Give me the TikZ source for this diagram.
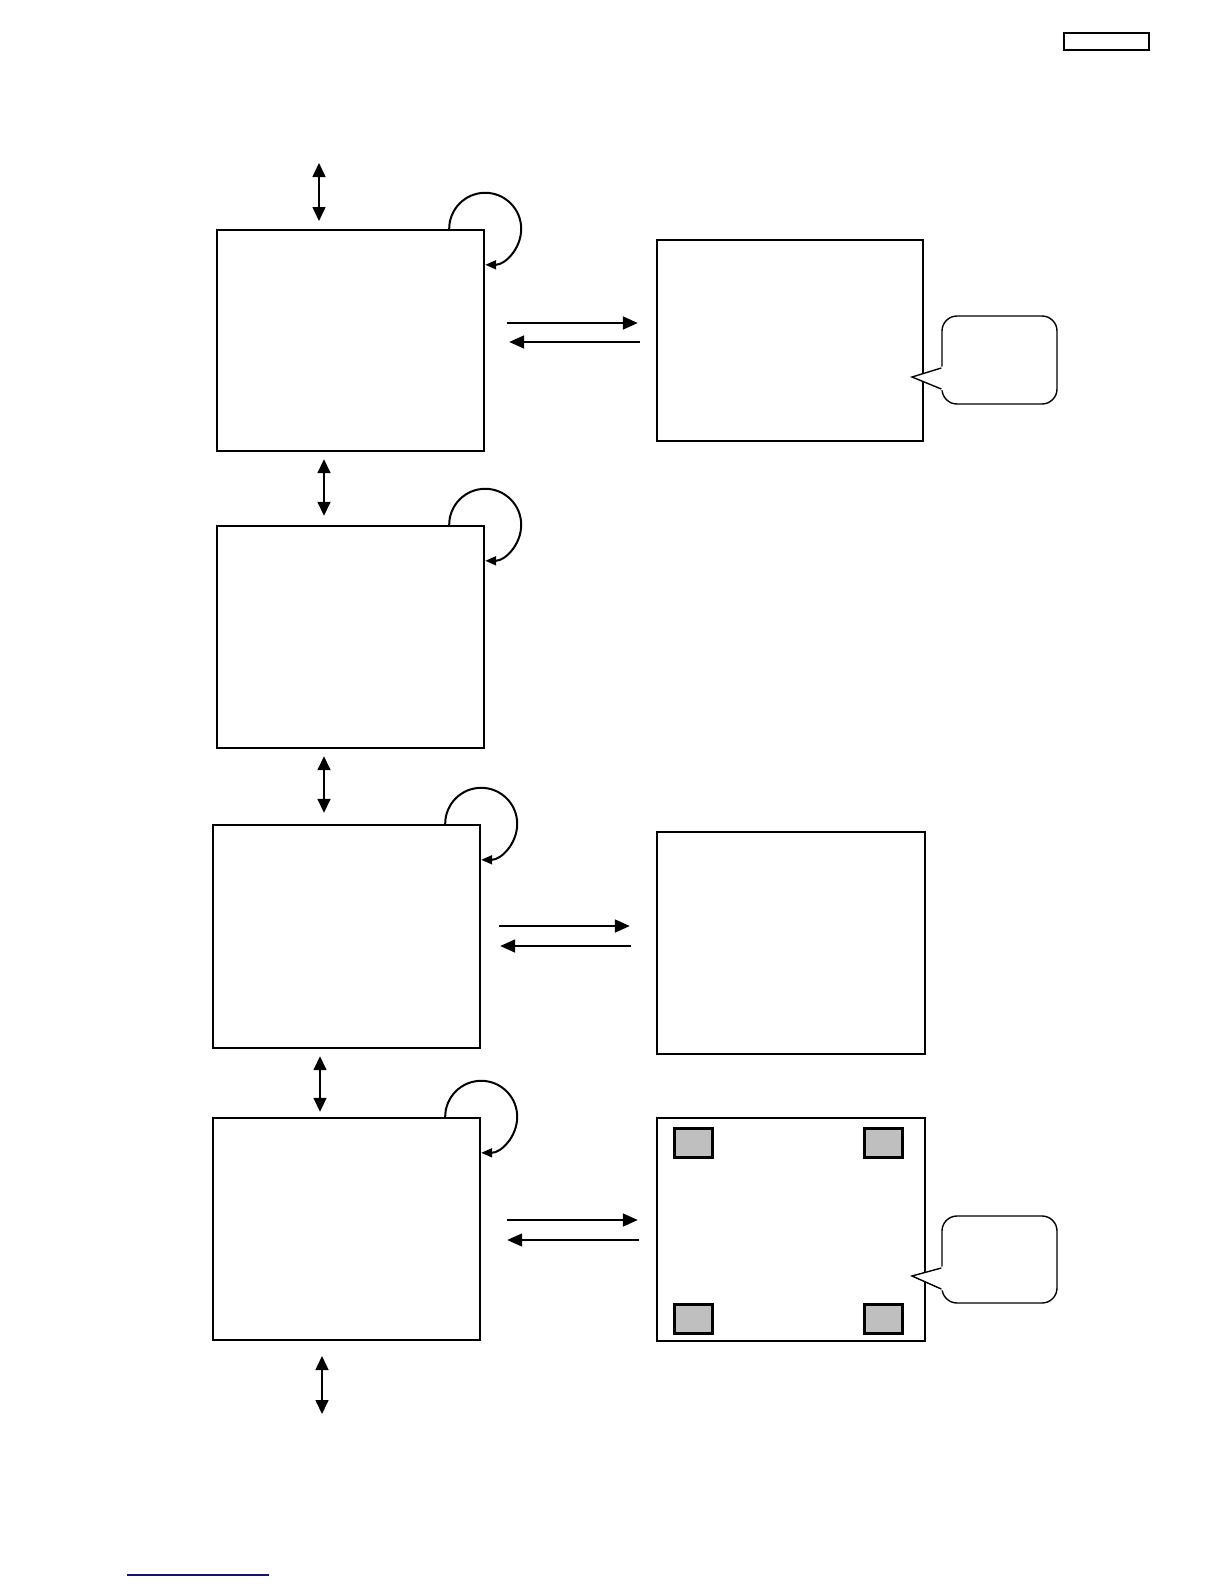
\documentclass[tikz,border=0pt]{standalone}
\usetikzlibrary{arrows.meta}
\begin{document}
\begin{tikzpicture}[x=0.5pt,y=-0.5pt,
  box/.style={draw,line width=1.2pt,inner sep=0pt,minimum width=133.5pt},
  graysq/.style={draw,fill=gray!50!white,line width=1.5pt,inner sep=0pt,minimum width=19pt,minimum height=14.5pt},
  dbl/.style={line width=0.8pt,{Triangle[length=7pt,width=6.5pt]}-{Triangle[length=7pt,width=6.5pt]}},
  harr/.style={line width=0.9pt,-{Triangle[length=7.5pt,width=6.5pt]}},
  loop/.style={line width=1pt,-{Triangle[length=5.5pt,width=4.5pt]}},
  callout/.style={line width=0.7pt}]
\useasboundingbox (0,0) rectangle (1224,1584);
% top-right small rectangle
\node[draw,line width=0.9pt,inner sep=0pt,minimum width=42.5pt,minimum height=8.5pt] (tag) at (1106.5,41.5) {};
% left boxes
\node[box,minimum height=110.5pt] (b1) at (350.5,340.5) {};
\node[box,minimum height=111pt] (b2) at (350.5,637) {};
\node[box,minimum height=111.5pt] (b3) at (346.5,936.5) {};
\node[box,minimum height=111pt] (b4) at (346.5,1229) {};
% right boxes
\node[box,minimum width=133pt,minimum height=100.5pt] (r1) at (790,340.5) {};
\node[box,minimum width=134pt,minimum height=111pt] (r3) at (791,943) {};
\node[box,minimum width=134pt,minimum height=111.5pt] (r4) at (791,1229.5) {};
% gray squares
\node[graysq] (g1) at (693,1142.5) {};
\node[graysq] (g2) at (883,1142.5) {};
\node[graysq] (g3) at (693,1318.5) {};
\node[graysq] (g4) at (883,1318.5) {};
% vertical double arrows
\coordinate (v0a) at (319,163); \coordinate (v0b) at (319,221);
\draw[dbl] (v0a) -- (v0b);
\draw[dbl] ([xshift=-13.25pt,yshift=-3.5pt]b1.south) -- ([xshift=-13.25pt,yshift=4.5pt]b2.north);
\draw[dbl] ([xshift=-13.25pt,yshift=-3.5pt]b2.south) -- ([xshift=-11.25pt,yshift=5.5pt]b3.north);
\draw[dbl] ([xshift=-13.25pt,yshift=-3.5pt]b3.south) -- ([xshift=-13.25pt,yshift=2.5pt]b4.north);
\coordinate (v4a) at (322,1356); \coordinate (v4b) at (322,1414);
\draw[dbl] (v4a) -- (v4b);
% horizontal arrow pairs (canvas yshift: positive is up)
\draw[harr] ([xshift=11pt,yshift=8.75pt]b1.east) -- ([xshift=-9pt,yshift=8.75pt]r1.west);
\draw[harr] ([xshift=-8pt,yshift=-0.75pt]r1.west) -- ([xshift=12pt,yshift=-0.75pt]b1.east);
\draw[harr] ([xshift=9pt,yshift=5.25pt]b3.east) -- ([xshift=-13pt,yshift=8.5pt]r3.west);
\draw[harr] ([xshift=-12.5pt,yshift=-1.5pt]r3.west) -- ([xshift=9.5pt,yshift=-4.75pt]b3.east);
\draw[harr] ([xshift=13pt,yshift=4.5pt]b4.east) -- ([xshift=-9pt,yshift=4.75pt]r4.west);
\draw[harr] ([xshift=-8.5pt,yshift=-5.25pt]r4.west) -- ([xshift=13pt,yshift=-5.5pt]b4.east);
% self loops
\draw[loop] ([xshift=-18pt]b1.north east) arc[start angle=180,end angle=450,radius=36];
\draw[loop] ([xshift=-18pt]b2.north east) arc[start angle=180,end angle=450,radius=36];
\draw[loop] ([xshift=-18pt]b3.north east) arc[start angle=180,end angle=450,radius=36];
\draw[loop] ([xshift=-18pt]b4.north east) arc[start angle=180,end angle=450,radius=36];
% callouts
\node[draw,callout,rounded corners=7.5pt,inner sep=0pt,minimum width=57.5pt,minimum height=44pt] (c1) at (999.5,360) {};
\fill[white] (944,366) -- (912,377) -- (944,391) -- cycle;
\draw[callout,line join=miter] ([yshift=-4pt]c1.west) -- (912,377) -- ([yshift=-14.5pt]c1.west);
\node[draw,callout,rounded corners=7.5pt,inner sep=0pt,minimum width=57.5pt,minimum height=43.5pt] (c2) at (999.5,1259.5) {};
\fill[white] (944,1266) -- (912,1276) -- (944,1291) -- cycle;
\draw[callout,line join=miter] ([yshift=-4.25pt]c2.west) -- (912,1276) -- ([yshift=-14.75pt]c2.west);
% bottom-left blue line
\coordinate (bl1) at (127,1575); \coordinate (bl2) at (269,1575);
\draw[line width=0.8pt,color={rgb,255:red,20;green,20;blue,120}] (bl1) -- (bl2);
\end{tikzpicture}
\end{document}
